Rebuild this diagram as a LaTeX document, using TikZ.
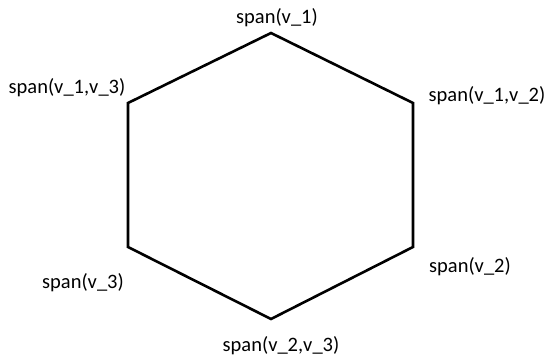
\documentclass[tikz,border=0pt]{standalone}
\usepackage{fontspec}
\setmainfont{Carlito}
\begin{document}
\begin{tikzpicture}[x=1pt,y=-1pt,
  corner/.style={inner sep=0pt,minimum size=0pt},
  lbl/.style={font=\fontsize{20.5}{24}\selectfont,inner sep=0pt,anchor=center},
  edge/.style={line width=2.6pt,line join=miter}]
  \useasboundingbox (0,0) rectangle (549,355);
  % hexagon corners
  \coordinate (t)  at (271,33);
  \coordinate (tr) at (413,103);
  \coordinate (br) at (413,247);
  \coordinate (b)  at (271,319);
  \coordinate (bl) at (128,247);
  \coordinate (tl) at (128,103);
  \draw[edge] (t) -- (tr) -- (br) -- (b) -- (bl) -- (tl) -- cycle;
  % subspace labels
  \node[lbl] (l1)  at (277,18)  {span(v\_1)};
  \node[lbl] (l12) at (487,96)  {span(v\_1,v\_2)};
  \node[lbl] (l2)  at (470,267) {span(v\_2)};
  \node[lbl] (l23) at (281,346) {span(v\_2,v\_3)};
  \node[lbl] (l3)  at (83,283)  {span(v\_3)};
  \node[lbl] (l13) at (67,88)   {span(v\_1,v\_3)};
\end{tikzpicture}
\end{document}
